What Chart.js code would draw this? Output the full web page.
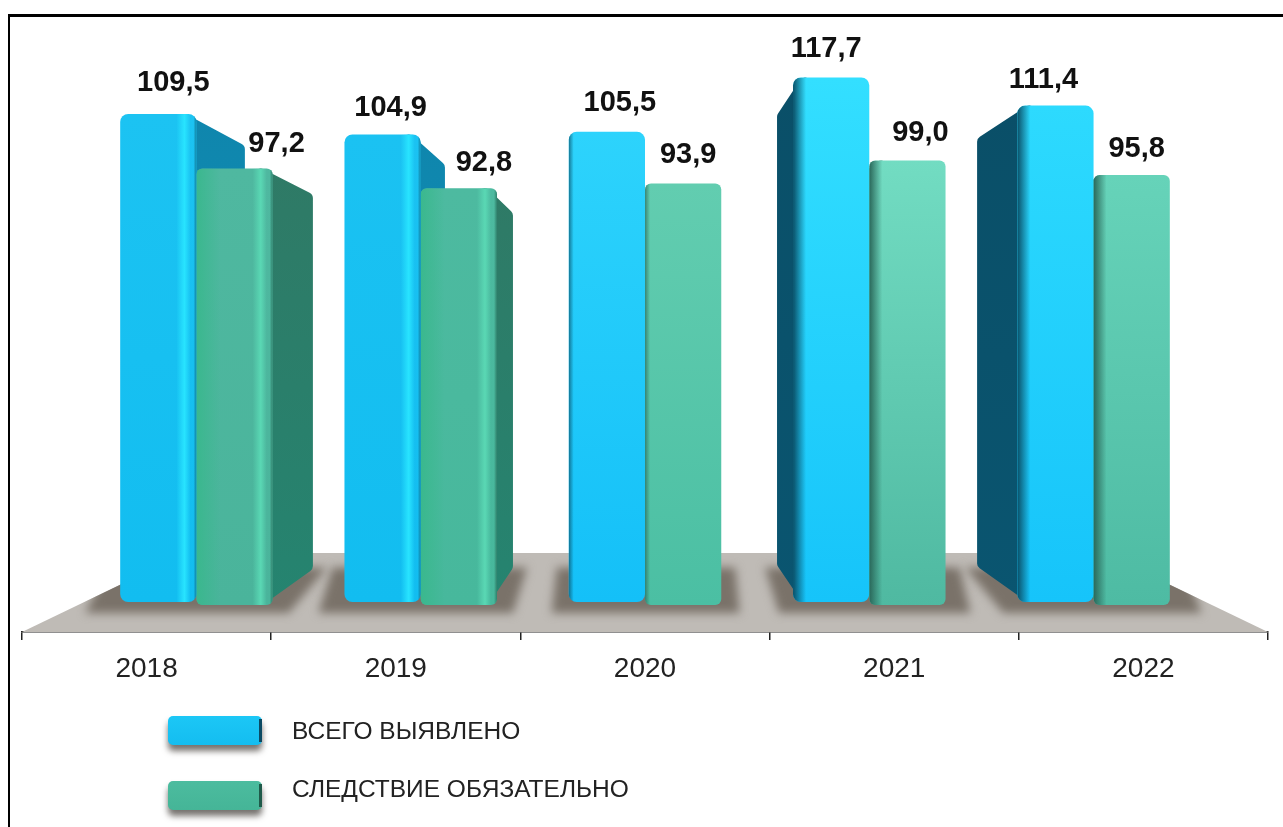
<!DOCTYPE html>
<html>
<head>
<meta charset="utf-8">
<title>Chart</title>
<script src="https://cdn.jsdelivr.net/npm/chart.js@4"></script>
<style>
  html, body { margin: 0; padding: 0; background: #fff; overflow: hidden; }
  #wrap { position: relative; width: 1283px; height: 827px; }
  #frame { position: absolute; left: 8px; top: 14px; width: 1275px; height: 813px; border-top: 3px solid #000; border-left: 2px solid #000; box-sizing: border-box; pointer-events: none; }
  canvas { display: block; filter: blur(0.5px); }
</style>
</head>
<body>
<div id="wrap">
  <canvas id="chart" width="1283" height="827"></canvas>
  <div id="frame"></div>
</div>
<script>
const years = ['2018', '2019', '2020', '2021', '2022'];
const totalFound = [109.5, 104.9, 105.5, 117.7, 111.4];
const investigationRequired = [97.2, 92.8, 93.9, 99.0, 95.8];
const seriesNames = ['ВСЕГО ВЫЯВЛЕНО', 'СЛЕДСТВИЕ ОБЯЗАТЕЛЬНО'];

// the picture is a fake 3D scene: bars stand further back than the axis
const CENTER_X = 645;
const BAR_PLANE = 0.9;
const DEPTH = 0.108;
const VP_TOP_Y = 385;
const VP_BOTTOM_Y = 300;
const AREA_TOP = 20;
const AREA_BOTTOM = 632;
const FLOOR_BACK_Y = 553;

// label nudges, the source labels are not centred on their bars
const labelNudgeX = [[15, 8, 13, -5, -12], [42, 25, 5, 13, 5]];
const labelNudgeY = [[-31, -27, -29, -28, -26], [-25, -25, -28, -28, -26]];

const frontColors = [
  [['#1cc3f2', '#12bdf0'], ['#1bc2f2', '#12bdf0'], ['#2dd3fc', '#14c0f8'], ['#33dfff', '#16c4fa'], ['#2ddafe', '#16c4fa']],
  [['#4fb8a0', '#4ab49b'], ['#4dbaa0', '#47b89c'], ['#62cdb0', '#4bbfa3'], ['#72dcc2', '#4fb9a1'], ['#66d3b9', '#4ebba3']]
];
const sideColors = [
  ['#0f86ad', '#1092b8'],
  ['#2f7a66', '#258470']
];

function backPoint(x, y, vpY) {
  return { x: x + DEPTH * (CENTER_X - x), y: y + DEPTH * (vpY - y) };
}

function barSide(el) {
  // the visible side is the one facing the centre of the scene
  if (el.x < CENTER_X - 50) return 1;
  return el.x > CENTER_X + 180 ? -1 : 0;
}

const scenePlugin = {
  id: 'scene',
  afterDatasetsUpdate(chart) {
    // push the bars back in the perspective plane
    chart.data.datasets.forEach((ds, d) => {
      chart.getDatasetMeta(d).data.forEach(el => {
        el.x = CENTER_X + BAR_PLANE * (el.x - CENTER_X);
        el.width = el.width * BAR_PLANE;
      });
    });
  },
  beforeDatasetsDraw(chart) {
    const ctx = chart.ctx;
    const area = chart.chartArea;
    const yBlue = chart.scales.yBlue;
    const base = yBlue.getPixelForValue(0);

    // floor
    const t = (AREA_BOTTOM - FLOOR_BACK_Y) / (AREA_BOTTOM - base);
    const inset = (1 - BAR_PLANE) * t;
    ctx.save();
    ctx.beginPath();
    ctx.moveTo(area.left, AREA_BOTTOM);
    ctx.lineTo(area.right, AREA_BOTTOM);
    ctx.lineTo(area.right + inset * (CENTER_X - area.right), FLOOR_BACK_Y);
    ctx.lineTo(area.left + inset * (CENTER_X - area.left), FLOOR_BACK_Y);
    ctx.closePath();
    ctx.fillStyle = '#bfbbb6';
    ctx.fill();
    ctx.clip();

    // soft shadow below each pair of bars
    const blue = chart.getDatasetMeta(0).data;
    const green = chart.getDatasetMeta(1).data;
    ctx.filter = 'blur(5px)';
    ctx.fillStyle = '#7a7269';
    blue.forEach((b, i) => {
      const g = green[i];
      const l = b.x - b.width / 2;
      const r = g.x + g.width / 2;
      const backL = backPoint(l, base, VP_BOTTOM_Y);
      const backR = backPoint(r, base, VP_BOTTOM_Y);
      const outL = 14 + Math.max(0, CENTER_X - l) * 0.04;
      const outR = 16 + Math.max(0, r - CENTER_X) * 0.03;
      ctx.beginPath();
      ctx.moveTo(Math.min(backL.x, l) - 12, backL.y - 2);
      ctx.lineTo(l - outL, base + 11);
      ctx.lineTo(r + outR, base + 11);
      ctx.lineTo(Math.max(backR.x, r) + 14, backR.y - 2);
      ctx.closePath();
      ctx.fill();
    });
    ctx.filter = 'none';
    ctx.restore();

    // side faces, the fronts are drawn over them by the library
    chart.data.datasets.forEach((ds, d) => {
      const meta = chart.getDatasetMeta(d);
      meta.data.forEach((el) => {
        const side = barSide(el);
        if (!side) return;
        const edge = el.x + side * el.width / 2;
        const bottom = el.base;
        const topBack = backPoint(edge, el.y, VP_TOP_Y);
        const botBack = backPoint(edge, bottom, VP_BOTTOM_Y);
        const grad = ctx.createLinearGradient(0, el.y, 0, bottom);
        const dark = side < 0;
        grad.addColorStop(0, dark && d === 0 ? '#0a4f68' : sideColors[d][0]);
        grad.addColorStop(1, dark && d === 0 ? '#0a5570' : sideColors[d][1]);
        ctx.save();
        ctx.fillStyle = grad;
        ctx.lineJoin = 'round';
        ctx.strokeStyle = grad;
        ctx.lineWidth = 12;
        ctx.beginPath();
        ctx.moveTo(edge - side * 12, el.y + 6);
        ctx.lineTo(topBack.x - side * 6, topBack.y + 6);
        ctx.lineTo(botBack.x - side * 6, botBack.y - 6);
        ctx.lineTo(edge - side * 12, bottom - 6);
        ctx.closePath();
        ctx.stroke();
        ctx.fill();
        ctx.restore();
      });
    });
  },
  afterDatasetsDraw(chart) {
    const ctx = chart.ctx;
    chart.data.datasets.forEach((ds, d) => {
      const meta = chart.getDatasetMeta(d);
      meta.data.forEach((el, i) => {
        const left = el.x - el.width / 2;
        const right = el.x + el.width / 2;
        const h = el.base - el.y;
        const side = barSide(el);
        ctx.save();
        ctx.beginPath();
        ctx.roundRect(left, el.y, el.width, h, d === 0 ? 8 : 6);
        ctx.clip();
        if (side > 0) {
          // narrow bright stripe where the front turns into the side
          const g = ctx.createLinearGradient(right - 20, 0, right, 0);
          const hi = d === 0 ? '40,228,255' : '90,216,180';
          const edgeTone = d === 0 ? '16,120,150' : '44,120,100';
          g.addColorStop(0, `rgba(${hi},0)`);
          g.addColorStop(0.4, `rgba(${hi},1)`);
          g.addColorStop(0.7, `rgba(${hi},0)`);
          g.addColorStop(0.85, `rgba(${edgeTone},0)`);
          g.addColorStop(1, `rgba(${edgeTone},0.9)`);
          ctx.fillStyle = g;
          ctx.fillRect(right - 20, el.y, 20, h);
          if (d === 1) {
            const tint = ctx.createLinearGradient(left, 0, left + 24, 0);
            tint.addColorStop(0, 'rgba(56,184,140,0.9)');
            tint.addColorStop(1, 'rgba(56,184,140,0)');
            ctx.fillStyle = tint;
            ctx.fillRect(left, el.y, 24, h);
          }
        } else {
          // dark rim at the left of the bars right of the centre
          const strong = i >= 3;
          const width = strong ? 13 : 5;
          const g = ctx.createLinearGradient(left, 0, left + width, 0);
          const rim = d === 0 ? '10,80,104' : '42,104,90';
          g.addColorStop(0, `rgba(${rim},${strong ? 1 : 0.7})`);
          g.addColorStop(1, `rgba(${rim},0)`);
          ctx.fillStyle = g;
          ctx.fillRect(left, el.y, width, h);
        }
        ctx.restore();
      });
    });

    // value labels
    ctx.save();
    ctx.font = 'bold 29px "Liberation Sans", Arial, sans-serif';
    ctx.textAlign = 'center';
    ctx.textBaseline = 'middle';
    ctx.fillStyle = '#111';
    chart.data.datasets.forEach((ds, d) => {
      chart.getDatasetMeta(d).data.forEach((el, i) => {
        const text = ds.data[i].toFixed(1).replace('.', ',');
        ctx.fillText(text, el.x + labelNudgeX[d][i], el.y + labelNudgeY[d][i]);
      });
    });
    ctx.restore();

    // legend
    const rows = [{ y: 716, h: 29, textY: 732 }, { y: 781, h: 29, textY: 790 }];
    const fills = [['#1cc7f6', '#14bdf0'], ['#4cbc9f', '#45b597']];
    ctx.save();
    rows.forEach((row, d) => {
      const grad = ctx.createLinearGradient(0, row.y, 0, row.y + row.h);
      grad.addColorStop(0, fills[d][0]);
      grad.addColorStop(1, fills[d][1]);
      ctx.save();
      ctx.shadowColor = 'rgba(60,55,50,0.7)';
      ctx.shadowBlur = 6;
      ctx.shadowOffsetY = 6;
      ctx.fillStyle = grad;
      ctx.beginPath();
      ctx.roundRect(168, row.y, 94, row.h, 5);
      ctx.fill();
      ctx.restore();
      ctx.fillStyle = d === 0 ? '#0b4a63' : '#1f5a4a';
      ctx.fillRect(259, row.y + 3, 3, row.h - 6);
      ctx.fillStyle = '#222';
      ctx.font = '24.5px "Liberation Sans", Arial, sans-serif';
      ctx.textAlign = 'left';
      ctx.textBaseline = 'middle';
      ctx.fillText(chart.data.datasets[d].label, 292, row.textY);
    });
    ctx.restore();
  }
};

function frontGradient(context) {
  if (context.type !== 'data') return 'transparent';
  const chart = context.chart;
  const d = context.datasetIndex;
  const i = context.dataIndex;
  const yScale = d === 0 ? chart.scales.yBlue : chart.scales.yGreen;
  const solid = frontColors[d][i][1];
  if (!yScale) return solid;
  const top = yScale.getPixelForValue(context.raw);
  const bottom = yScale.getPixelForValue(0);
  if (!Number.isFinite(top) || !Number.isFinite(bottom)) return solid;
  const grad = chart.ctx.createLinearGradient(0, top, 0, bottom);
  grad.addColorStop(0, frontColors[d][i][0]);
  grad.addColorStop(1, frontColors[d][i][1]);
  return grad;
}

new Chart(document.getElementById('chart'), {
  type: 'bar',
  data: {
    labels: years,
    datasets: [
      { label: seriesNames[0], data: totalFound, yAxisID: 'yBlue', backgroundColor: frontGradient, borderRadius: 8, borderSkipped: false },
      { label: seriesNames[1], data: investigationRequired, yAxisID: 'yGreen', backgroundColor: frontGradient, borderRadius: 6, borderSkipped: false }
    ]
  },
  options: {
    responsive: false,
    animation: false,
    datasets: { bar: { categoryPercentage: 0.68, barPercentage: 1 } },
    layout: { padding: { left: 22, right: 15, top: AREA_TOP } },
    plugins: { legend: { display: false }, tooltip: { enabled: false } },
    scales: {
      x: {
        grid: { display: true, drawOnChartArea: false, drawTicks: true, tickLength: 8, color: '#222', lineWidth: 1.5 },
        border: { display: true, color: '#222', width: 1.5 },
        ticks: { color: '#222', padding: 12, maxRotation: 0, font: { family: '"Liberation Sans", Arial, sans-serif', size: 28 } },
        afterFit(scale) { scale.height = 827 - AREA_BOTTOM; }
      },
      // the front plane of the green bars is slightly closer, hence its own scale
      yBlue: { display: false, min: -6.73, max: 130.6 },
      yGreen: { display: false, min: -6.01, max: 130.3 }
    }
  },
  plugins: [scenePlugin]
});
</script>
</body>
</html>
